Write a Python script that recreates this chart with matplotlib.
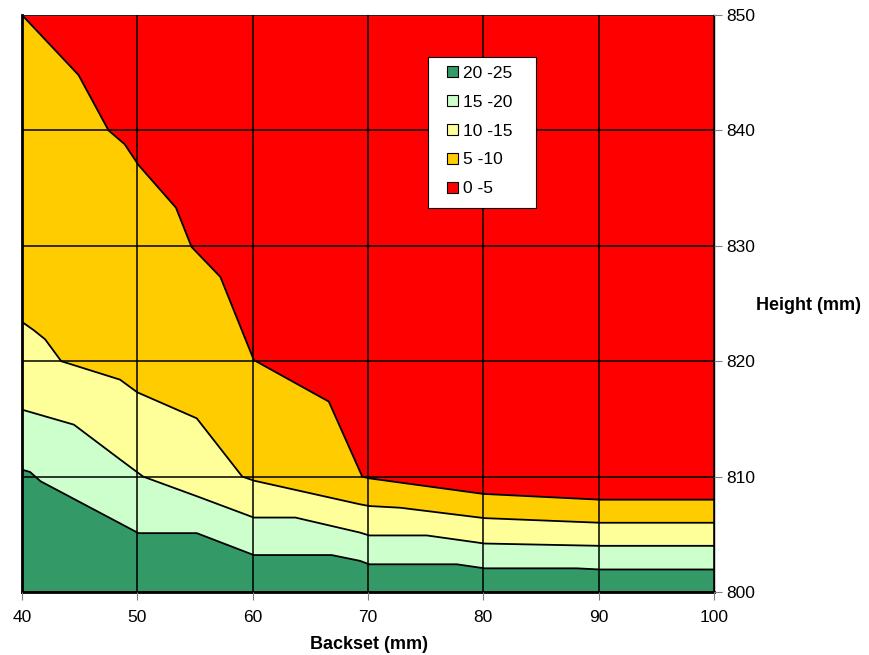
# Contour bands of score vs backset and height
import matplotlib.pyplot as plt
from matplotlib.patches import Patch, Rectangle

plt.rcParams['font.family'] = ['Liberation Sans', 'DejaVu Sans']

# band labels and fill colours, lowest band first
band_labels = ["20 -25", "15 -20", "10 -15", "5 -10", "0 -5"]
band_colors = ["#339966", "#CCFFCC", "#FFFF99", "#FFCC00", "#FF0000"]

# boundary between 20-25 and 15-20
b1_x = [40, 40.7, 41.6, 50.1, 55.15, 60.1, 66.85, 69.3, 70.1, 77.7, 80.1, 88.1, 90.1, 100]
b1_y = [810.6, 810.4, 809.6, 805.1, 805.1, 803.2, 803.2, 802.7, 802.4, 802.4, 802.05, 802.05, 801.95, 801.95]

# boundary between 15-20 and 10-15
b2_x = [40, 44.5, 48.35, 50.5, 55.15, 60.1, 63.7, 69.3, 70.1, 75.1, 80.1, 90.1, 100]
b2_y = [815.8, 814.5, 811.6, 810.0, 808.3, 806.45, 806.45, 805.15, 804.9, 804.9, 804.2, 804.0, 804.0]

# boundary between 10-15 and 5-10
b3_x = [40, 41.0, 42.0, 43.4, 48.5, 50.0, 55.15, 59.1, 60.1, 69.3, 70.1, 72.8, 80.1, 90.1, 100]
b3_y = [823.4, 822.7, 821.9, 820.0, 818.4, 817.3, 815.05, 810.0, 809.65, 807.6, 807.45, 807.3, 806.4, 806.0, 806.0]

# boundary between 5-10 and 0-5
b4_x = [40, 44.9, 47.5, 48.9, 50.1, 53.35, 54.7, 57.2, 60.1, 66.6, 69.5, 70.1, 80.0, 90.1, 100]
b4_y = [850, 844.8, 840.0, 838.8, 837.0, 833.3, 829.9, 827.3, 820.1, 816.5, 810.0, 809.85, 808.5, 808.0, 808.0]

x_min, x_max = 40, 100
y_min, y_max = 800, 850

boundaries = [
    ([x_min, x_max], [y_min, y_min]),
    (b1_x, b1_y),
    (b2_x, b2_y),
    (b3_x, b3_y),
    (b4_x, b4_y),
    ([x_min, x_max], [y_max, y_max]),
]

fig = plt.figure(figsize=(8.7, 6.55), dpi=100)
ax = fig.add_axes([0.0253, 0.0962, 0.7954, 0.8809])

for i, color in enumerate(band_colors):
    lo_x, lo_y = boundaries[i]
    hi_x, hi_y = boundaries[i + 1]
    px = list(lo_x) + list(hi_x)[::-1]
    py = list(lo_y) + list(hi_y)[::-1]
    ax.fill(px, py, color=color, lw=0, zorder=1)

for bx, by in boundaries[1:-1]:
    ax.plot(bx, by, color="black", lw=1.3, zorder=3)

ax.set_xlim(x_min, x_max)
ax.set_ylim(y_min, y_max)
ax.set_xticks(range(40, 101, 10))
ax.set_yticks(range(800, 851, 10))
ax.grid(True, color="black", lw=1.1, zorder=2)
ax.set_axisbelow(False)

ax.yaxis.tick_right()
ax.tick_params(axis="both", labelsize=12.5, length=6, color="#808080", direction="out")
ax.tick_params(axis="x", pad=7)
ax.tick_params(axis="y", pad=3)

for side in ["left", "bottom"]:
    ax.spines[side].set_linewidth(2)
    ax.spines[side].set_color("black")
ax.spines["top"].set_color("#999999")
ax.spines["top"].set_linewidth(0.8)
ax.spines["right"].set_color("black")
ax.spines["right"].set_linewidth(1)

fig.text(0.424, 0.0153, "Backset (mm)", fontsize=13, fontweight="bold", ha="center", va="center")
fig.text(0.929, 0.534, "Height (mm)", fontsize=13, fontweight="bold", ha="center", va="center")

# legend box drawn separately so its padding can be wider than the entries need
ax.add_patch(Rectangle((0.5867, 0.6655), 0.1561, 0.2617, transform=ax.transAxes,
                       facecolor="white", edgecolor="black", lw=0.8, zorder=5))
handles = [Patch(facecolor=c, edgecolor="black", lw=0.8) for c in band_colors]
leg = ax.legend(handles, band_labels, loc="upper left", bbox_to_anchor=(0.6137, 0.912),
                fontsize=12.5, frameon=False,
                handlelength=0.63, handleheight=0.63, handletextpad=0.32, labelspacing=0.8,
                borderpad=0, borderaxespad=0)
leg.set_zorder(6)

fig.savefig("out.png", dpi=100)
